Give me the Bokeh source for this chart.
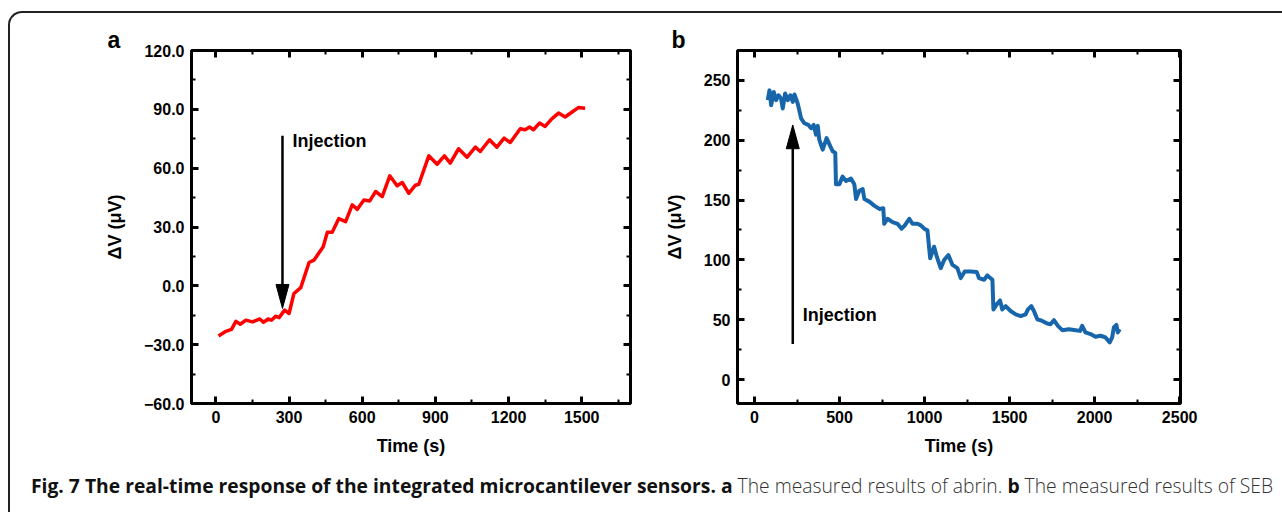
from bokeh.plotting import figure
from bokeh.models import FixedTicker, LinearAxis, Label, Range1d, Div
from bokeh.layouts import column, row
from bokeh.embed import file_html
from bokeh.resources import INLINE

# ---------------- data ----------------
abrin_time = [11, 41, 64, 82, 100, 123, 150, 180, 195, 214, 228, 245, 259, 282, 300,
              320, 348, 382, 402, 440, 457, 477, 504, 532, 559, 580, 607, 631, 655, 682,
              713, 743, 764, 791, 818, 832, 873, 907, 937, 961, 995, 1030, 1064, 1084,
              1122, 1152, 1182, 1207, 1248, 1268, 1286, 1302, 1327, 1350, 1377, 1405,
              1432, 1459, 1486, 1514]
abrin_dv = [-25.6, -23.2, -22.2, -18.1, -19.6, -17.5, -18.4, -16.9, -18.6, -16.9, -17.5,
            -15.5, -16.2, -12.4, -14.1, -3.9, -0.9, 11.9, 13.1, 19.9, 27.3, 27.3, 34.3,
            32.7, 41.3, 39.0, 43.8, 43.3, 48.1, 45.5, 56.1, 51.0, 52.7, 47.2, 51.3, 51.8,
            66.3, 62.0, 66.3, 62.6, 69.9, 65.6, 70.7, 68.5, 74.5, 70.7, 75.3, 73.1, 80.1,
            79.6, 81.0, 79.6, 83.0, 81.3, 85.1, 88.1, 86.1, 88.5, 90.9, 90.5]

seb_time = [78, 88, 98, 113, 127, 141, 156, 166, 180, 196, 211, 225, 235, 254, 274, 293,
            317, 333, 348, 362, 372, 381, 401, 424, 446, 460, 475, 479, 499, 518, 538,
            567, 587, 597, 616, 636, 646, 675, 704, 734, 757, 763, 782, 812, 841, 865,
            884, 910, 929, 959, 978, 998, 1017, 1033, 1056, 1072, 1095, 1115, 1140, 1164,
            1193, 1213, 1236, 1272, 1307, 1320, 1350, 1369, 1399, 1405, 1424, 1444, 1457,
            1477, 1506, 1536, 1565, 1594, 1608, 1628, 1643, 1663, 1692, 1721, 1741, 1761,
            1784, 1810, 1849, 1888, 1914, 1927, 1946, 1976, 2005, 2034, 2064, 2089, 2103,
            2113, 2128, 2136, 2148]
seb_dv = [233.5, 241.7, 229.3, 240.4, 233.5, 237.6, 234.9, 226.6, 239.0, 233.5, 237.6,
          232.1, 238.2, 230.7, 218.3, 214.2, 212.8, 210.1, 212.8, 204.6, 212.0, 200.4,
          192.2, 201.8, 194.9, 190.8, 189.4, 163.3, 163.3, 169.6, 166.0, 168.0, 163.3,
          150.9, 157.8, 159.1, 150.9, 148.7, 145.4, 142.6, 143.2, 130.2, 134.4, 131.6,
          130.2, 126.1, 128.9, 134.4, 130.2, 130.2, 128.9, 126.1, 124.7, 101.3, 111.0,
          102.7, 93.1, 99.9, 104.1, 95.8, 93.1, 84.8, 90.3, 90.3, 89.8, 84.8, 83.4, 87.0,
          83.4, 58.6, 62.8, 66.1, 58.6, 61.4, 57.3, 54.5, 53.1, 54.5, 58.6, 61.4, 57.3,
          50.4, 49.0, 46.8, 46.3, 49.6, 44.9, 41.3, 42.1, 41.3, 40.7, 44.9, 39.4, 38.0,
          35.8, 36.6, 35.2, 31.1, 35.2, 43.5, 45.7, 39.4, 42.1]

xa_ticks = [0, 300, 600, 900, 1200, 1500]
xa_labels = ["0", "300", "600", "900", "1200", "1500"]
ya_ticks = [-60, -30, 0, 30, 60, 90, 120]
ya_labels = ["\u221260.0", "\u221230.0", "0.0", "30.0", "60.0", "90.0", "120.0"]
xb_ticks = [0, 500, 1000, 1500, 2000, 2500]
xb_labels = ["0", "500", "1000", "1500", "2000", "2500"]
yb_ticks = [0, 50, 100, 150, 200, 250]
yb_labels = ["0", "50", "100", "150", "200", "250"]

# injection arrows: x, start value, tip value, label x, label y
inj_a = [273, 76.5, -11.5, 314, 74]
inj_b = [225, 29.7, 212.8, 284, 54]

caption_bold = "Fig. 7 The real-time response of the integrated microcantilever sensors."
caption_rest = [("a", "The measured results of abrin."), ("b", "The measured results of SEB")]

# ---------------- styling ----------------
FONT = "Liberation Sans"


def make_fig(panel, title_offset, xr, yr, xt, xl, yt, yl, width, height, mbl, mbr, mbt, mbb):
    p = figure(width=width, height=height, x_range=Range1d(*xr), y_range=Range1d(*yr),
               output_backend="svg", toolbar_location=None, x_axis_label="Time (s)",
               y_axis_label="\u0394V (\u03bcV)", title=panel, title_location="above",
               min_border_left=mbl, min_border_right=mbr, min_border_top=mbt,
               min_border_bottom=mbb)
    p.title.align = "left"
    p.title.offset = title_offset
    p.title.standoff = -5
    p.title.text_font = FONT
    p.title.text_font_style = "bold"
    p.title.text_font_size = "23px"
    p.title.text_color = "black"
    p.grid.visible = False
    p.outline_line_color = "black"
    p.outline_line_width = 3
    p.border_fill_color = None
    bottom = p.below[0]
    left = p.left[0]
    xminor = [(a + b) / 2 for a, b in zip(xt[:-1], xt[1:])]
    xminor = [xt[0] - (xt[1] - xt[0]) / 2] + xminor + [xt[-1] + (xt[1] - xt[0]) / 2]
    yminor = [(a + b) / 2 for a, b in zip(yt[:-1], yt[1:])]
    yminor = [yt[0] - (yt[1] - yt[0]) / 2] + yminor + [yt[-1] + (yt[1] - yt[0]) / 2]
    xtick = FixedTicker(ticks=xt, minor_ticks=xminor)
    ytick = FixedTicker(ticks=yt, minor_ticks=yminor)
    bottom.ticker = xtick
    left.ticker = ytick
    bottom.major_label_overrides = {t: l for t, l in zip(xt, xl)}
    left.major_label_overrides = {t: l for t, l in zip(yt, yl)}
    top = LinearAxis(ticker=xtick)
    right = LinearAxis(ticker=ytick)
    for ax in (top, right):
        ax.major_label_text_font_size = "0px"
        ax.major_label_text_alpha = 0
        ax.major_label_standoff = 0
    p.add_layout(top, "above")
    p.add_layout(right, "right")
    for ax in (bottom, left, top, right):
        ax.axis_line_color = None
        ax.major_tick_in = 7
        ax.major_tick_out = 0
        ax.minor_tick_in = 4
        ax.minor_tick_out = 0
        ax.major_tick_line_width = 3
        ax.minor_tick_line_width = 2
        ax.major_tick_line_color = "black"
        ax.minor_tick_line_color = "black"
    for ax in (bottom, left):
        ax.major_label_text_font = FONT
        ax.major_label_text_font_style = "bold"
        ax.major_label_text_font_size = "16px"
        ax.major_label_text_color = "black"
        ax.major_label_standoff = 7
        ax.axis_label_text_font = FONT
        ax.axis_label_text_font_style = "bold"
        ax.axis_label_text_font_size = "18px"
        ax.axis_label_text_color = "black"
    bottom.axis_label_standoff = 10
    left.axis_label_standoff = 16
    return p


def add_injection(p, inj, xr, yr, fw, fh, up):
    ppx = fw / (xr[1] - xr[0])
    ppy = fh / (yr[1] - yr[0])
    hl = 24 / ppy
    hw = 6.5 / ppx
    x, y0, y1, tx, ty = inj
    base = y1 - hl if up else y1 + hl
    p.line([x, x], [y0, base], line_color="black", line_width=2.5)
    p.patch([x, x - hw, x + hw], [y1, base, base], fill_color="black", line_color="black")
    p.add_layout(Label(x=tx, y=ty, text="Injection", text_font=FONT, text_font_style="bold",
                       text_font_size="18px", text_baseline="middle", text_align="left",
                       text_color="black"))


xra, yra = (-100, 1700), (-60, 120)
fa = make_fig("a", -84, xra, yra, xa_ticks, xa_labels, ya_ticks, ya_labels,
              640, 452, 181, 20, 37, 61)
fa.line(abrin_time, abrin_dv, line_color="#ff0000", line_width=3.5, line_join="round")
add_injection(fa, inj_a, xra, yra, 439, 354, False)

xrb, yrb = (-100, 2505), (-20, 275)
fb = make_fig("b", -66, xrb, yrb, xb_ticks, xb_labels, yb_ticks, yb_labels,
              622, 452, 87, 92, 34, 62)
fb.line(seb_time, seb_dv, line_color="#1766ab", line_width=4, line_join="round")
add_injection(fb, inj_b, xrb, yrb, 443, 356, True)

cap_html = ('<div style="font-family: \'Open Sans\'; font-size: 19.3px; color:#333; '
            'white-space: nowrap; padding-left: 16px; padding-top: 2px;">'
            '<b style="color:#111;">' + caption_bold + '</b>')
for letter, txt in caption_rest:
    cap_html += (' <b style="color:#111;">' + letter + '</b> '
                 '<span style="font-weight:300;">' + txt + '</span>')
cap_html += '</div>'
cap = Div(text=cap_html, width=1268, height=40)

layout = column(row(fa, fb), cap,
                styles={"border-top": "2px solid #222", "border-left": "2px solid #222",
                        "border-top-left-radius": "14px", "margin-top": "11px",
                        "margin-left": "8px"})

open("out.html", "w").write(file_html(layout, INLINE))
